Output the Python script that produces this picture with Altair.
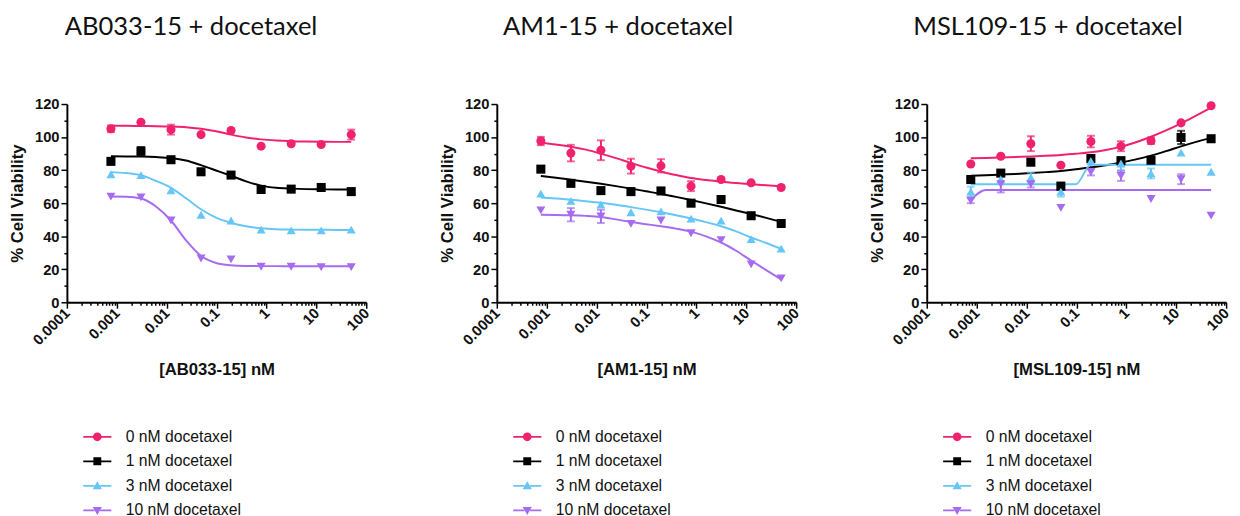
import altair as alt
import pandas as pd

# ---------------- data ----------------
doses = [0.000763, 0.00305, 0.0122, 0.0488, 0.195, 0.781, 3.125, 12.5, 50]
curve_x = [0.000763, 0.00153, 0.00305, 0.0061, 0.0122, 0.0244, 0.0488, 0.0977,
           0.195, 0.391, 0.781, 1.5625, 3.125, 6.25, 12.5, 25, 50]

series = ["0 nM docetaxel", "1 nM docetaxel", "3 nM docetaxel", "10 nM docetaxel"]
colors = ["#F0226E", "#000000", "#66C6F5", "#A66CF0"]
shapes = ["circle", "square", "triangle-up", "triangle-down"]

panel_titles = ["AB033-15 + docetaxel", "AM1-15 + docetaxel", "MSL109-15 + docetaxel"]
x_titles = ["[AB033-15] nM", "[AM1-15] nM", "[MSL109-15] nM"]
y_title = "% Cell Viability"

# --- AB033-15 ---
ab_pink = [105, 109, 104.5, 101.5, 104, 94.5, 96, 95.5, 101.5]
ab_pink_err = [2, 0, 3, 0, 0, 0, 0, 0, 3]
ab_black = [85.3, 91.5, 86.3, 79, 77, 68.3, 68.5, 69.5, 67]
ab_black_err = [0, 2.5, 1.5, 0, 0, 0, 0, 0, 0]
ab_cyan = [77.5, 77, 67.7, 53, 49.5, 44, 43.5, 43.5, 44]
ab_cyan_err = [0, 0, 0, 0, 0, 0, 0, 0, 0]
ab_purple = [64, 63.5, 49.5, 26.5, 26, 21.5, 21.5, 21.3, 21.3]
ab_purple_err = [0, 0, 0, 0, 0, 0, 0, 0, 0]
ab_pink_fit = [106.8, 106.8, 106.7, 106.6, 106.4, 106.0, 105.0, 103.5, 101.5,
               99.8, 98.6, 97.9, 97.5, 97.3, 97.2, 97.1, 97.1]
ab_black_fit = [88.4, 88.3, 88.2, 87.9, 87.3, 85.8, 83.0, 79.8, 76.6,
                73.2, 70.6, 69.3, 68.8, 68.5, 68.4, 68.3, 68.3]
ab_cyan_fit = [78.8, 78.2, 76.9, 73.5, 69.3, 63.0, 56.3, 51.2, 48.1,
               46.0, 44.8, 44.2, 44.0, 43.9, 43.9, 43.8, 43.8]
ab_purple_fit = [64.0, 63.9, 62.8, 58.0, 49.5, 37.5, 28.0, 23.8, 22.4,
                 22.0, 21.9, 21.9, 21.8, 21.8, 21.8, 21.8, 21.8]

# --- AM1-15 ---
am_pink = [97.6, 90.3, 92, 82.4, 82.6, 70.3, 74.3, 72.3, 69.5]
am_pink_err = [2.5, 5, 6, 4.5, 4, 3, 0, 0, 0]
am_black = [80.6, 72, 67.6, 67, 67.4, 60, 62.2, 52.4, 47.7]
am_black_err = [0, 0, 0, 0, 0, 0, 0, 0, 0]
am_cyan = [65.8, 61.4, 59.2, 54.5, 55, 50.6, 49.4, 38.2, 32.5]
am_cyan_err = [0, 0, 0, 0, 0, 0, 0, 0, 0]
am_purple = [55.6, 53, 52, 47.5, 49.5, 41.8, 37.6, 23, 14.5]
am_purple_err = [0, 4, 4, 0, 0, 0, 0, 0, 0]
am_pink_fit = [96.6, 95.5, 94.2, 92.4, 90.0, 87.3, 84.4, 81.6, 79.2,
               77.0, 75.2, 74.0, 73.0, 72.2, 71.5, 70.8, 70.2]
am_black_fit = [76.5, 75.4, 74.2, 73.0, 71.7, 70.3, 68.8, 67.2, 65.6,
                63.8, 61.9, 59.9, 57.8, 55.6, 53.4, 51.1, 48.7]
am_cyan_fit = [63.4, 62.8, 62.1, 61.2, 60.2, 59.0, 57.6, 56.1, 54.5,
               52.7, 50.7, 48.5, 46.0, 42.9, 39.2, 35.9, 32.3]
am_purple_fit = [53.0, 52.9, 52.7, 52.3, 51.6, 50.2, 48.6, 47.3, 46.0,
                 44.6, 42.8, 39.9, 36.2, 31.2, 25.3, 19.5, 13.9]

# --- MSL109-15 ---
ms_pink = [83.7, 88.4, 96, 83, 97.3, 94.5, 97.8, 108.6, 119]
ms_pink_err = [0, 0, 4.5, 0, 3.5, 3, 2, 0, 0]
ms_black = [74.3, 78.2, 84.8, 70.3, 87, 85.7, 86, 99.8, 99]
ms_black_err = [0, 0, 0, 2, 2, 2, 0, 4, 0]
ms_cyan = [67, 74.5, 75.5, 67, 85.5, 84, 78, 90.6, 79]
ms_cyan_err = [3, 0, 3, 3, 0, 4, 3, 0, 0]
ms_purple = [61.5, 71.5, 71.5, 57.2, 78.8, 76.5, 62.5, 74.5, 52.5]
ms_purple_err = [1.5, 5, 2, 0, 2, 3, 0, 3, 0]
ms_pink_fit = [87.2, 87.4, 87.7, 88.0, 88.3, 88.7, 89.2, 89.9, 90.8,
               92.2, 94.2, 96.9, 100.2, 104.0, 108.3, 113.0, 117.8]
ms_black_fit = [76.6, 76.9, 77.3, 77.7, 78.2, 78.8, 79.5, 80.5, 81.7,
                83.0, 84.6, 86.5, 88.8, 91.5, 94.4, 97.1, 99.5]
ms_cyan_fit = [71.5, 71.5, 71.5, 71.5, 71.5, 71.5, 71.5, 71.5, 83.3,
               83.3, 83.3, 83.3, 83.3, 83.3, 83.3, 83.3, 83.3]
ms_purple_fit = [62.0, 68.0, 68.0, 68.0, 68.0, 68.0, 68.0, 68.0, 68.0,
                 68.0, 68.0, 68.0, 68.0, 68.0, 68.0, 68.0, 68.0]

panels = [
    ([ab_pink, ab_black, ab_cyan, ab_purple],
     [ab_pink_err, ab_black_err, ab_cyan_err, ab_purple_err],
     [ab_pink_fit, ab_black_fit, ab_cyan_fit, ab_purple_fit]),
    ([am_pink, am_black, am_cyan, am_purple],
     [am_pink_err, am_black_err, am_cyan_err, am_purple_err],
     [am_pink_fit, am_black_fit, am_cyan_fit, am_purple_fit]),
    ([ms_pink, ms_black, ms_cyan, ms_purple],
     [ms_pink_err, ms_black_err, ms_cyan_err, ms_purple_err],
     [ms_pink_fit, ms_black_fit, ms_cyan_fit, ms_purple_fit]),
]

# axis tick values (labels shown only on majors)
x_major = [0.0001, 0.001, 0.01, 0.1, 1, 10, 100]
x_ticks = [m * k for m in x_major[:-1] for k in range(1, 10)] + [100]
y_ticks = list(range(0, 121, 10))

# legend symbols: a short line with the marker in the middle
legend_paths = [
    "M-3.2,-0.2H-0.95V0.2H-3.2Z M0.95,-0.2H3.2V0.2H0.95Z "
    "M1,0A1,1,0,1,1,-1,0A1,1,0,1,1,1,0Z",
    "M-3.2,-0.2H-0.9V0.2H-3.2Z M0.9,-0.2H3.2V0.2H0.9Z "
    "M-0.9,-0.9H0.9V0.9H-0.9Z",
    "M-3.2,-0.2H-0.65V0.2H-3.2Z M0.65,-0.2H3.2V0.2H0.65Z "
    "M0,-1.05L1.05,0.8H-1.05Z",
    "M-3.2,-0.2H-0.65V0.2H-3.2Z M0.65,-0.2H3.2V0.2H0.65Z "
    "M0,1.05L1.05,-0.8H-1.05Z",
]
title_dx = [-26, -29, -29]

FONT = "Liberation Sans"
major_x_test = "abs(log(datum.value)/LN10 - round(log(datum.value)/LN10)) < 0.001"


def make_panel(i):
    vals, errs, fits = panels[i]
    pts_rows, err_rows, fit_rows = [], [], []
    for s_idx, name in enumerate(series):
        for d, v, e in zip(doses, vals[s_idx], errs[s_idx]):
            pts_rows.append({"dose": d, "v": v, "s": name})
            if e > 0:
                err_rows.append({"dose": d, "lo": v - e, "hi": v + e, "s": name})
        for cx, cv in zip(curve_x, fits[s_idx]):
            fit_rows.append({"dose": cx, "v": cv, "s": name})
    pts = pd.DataFrame(pts_rows)
    err = pd.DataFrame(err_rows)
    fit = pd.DataFrame(fit_rows)

    x_axis = alt.Axis(
        values=x_ticks, format="~g", labelAngle=315, labelAlign="right",
        labelBaseline="middle", labelPadding=2, titlePadding=14, grid=False,
        labelExpr=f"({major_x_test}) ? datum.label : ''",
        tickSize={"condition": {"test": major_x_test, "value": 6}, "value": 3},
        labelFlush=False, labelOverlap=False,
    )
    y_axis = alt.Axis(
        values=y_ticks, labelExpr="datum.value % 20 == 0 ? datum.label : ''",
        tickSize={"condition": {"test": "datum.value % 20 == 0", "value": 6}, "value": 3},
        labelPadding=2, titlePadding=8, labelOverlap=False, grid=False,
    )
    xs = alt.Scale(type="log", domain=[0.0001, 100])
    ys = alt.Scale(domain=[0, 120], nice=False, zero=True)
    X = alt.X("dose:Q", scale=xs, axis=x_axis, title=x_titles[i])
    Y = alt.Y("v:Q", scale=ys, axis=y_axis, title=y_title)
    cscale = alt.Scale(domain=series, range=colors)

    legend = alt.Legend(
        orient="none", legendX=23, legendY=331, title=None,
        labelFont=FONT, labelFontSize=16, labelColor="#111111",
        symbolSize=80, labelOffset=21, rowPadding=9, symbolOpacity=1,
        symbolStrokeWidth=0,
    )

    lines = alt.Chart(fit).mark_line(interpolate="monotone", strokeWidth=2).encode(
        x=X, y=Y, color=alt.Color("s:N", scale=cscale, legend=None),
    )
    bars = alt.Chart(err).mark_errorbar(ticks={"size": 8, "thickness": 2}, thickness=2).encode(
        x=alt.X("dose:Q", scale=xs, axis=x_axis, title=x_titles[i]),
        y=alt.Y("lo:Q", scale=ys, axis=y_axis, title=y_title),
        y2="hi:Q",
        color=alt.Color("s:N", scale=cscale, legend=None),
    )
    points = alt.Chart(pts).mark_point(filled=True, size=85, opacity=1).encode(
        x=X, y=Y,
        color=alt.Color("s:N", scale=cscale, legend=None),
        shape=alt.Shape("s:N", scale=alt.Scale(domain=series, range=shapes), legend=None),
    )
    leg = alt.Chart(pts).mark_point(filled=True, size=80, opacity=0).encode(
        x=X, y=Y,
        color=alt.Color("s:N", scale=cscale, legend=legend),
        shape=alt.Shape("s:N", scale=alt.Scale(domain=series, range=legend_paths), legend=legend),
    )
    return alt.layer(lines, bars, points, leg).resolve_scale(
        color="independent", shape="independent"
    ).properties(
        width=305, height=202,
        title=alt.TitleParams(panel_titles[i], font="Lato", fontSize=26,
                              fontWeight="normal", color="#111111", offset=58,
                              dx=title_dx[i]),
    )


chart = alt.hconcat(make_panel(0), make_panel(1), make_panel(2), spacing=67).resolve_scale(
    color="independent", shape="independent"
).properties(
    padding={"left": 0, "top": 2, "right": 0, "bottom": 0}
).configure(background="white").configure_view(stroke=None).configure_axis(
    domainColor="black", domainWidth=2, tickColor="black", tickWidth=1.5,
    labelFont=FONT, labelFontWeight="bold", labelFontSize=15, labelColor="#111111",
    titleFont=FONT, titleFontWeight="bold", titleFontSize=17, titleColor="#111111",
    grid=False,
)

chart.save("out.html", embed_options={"renderer": "svg", "actions": False})
